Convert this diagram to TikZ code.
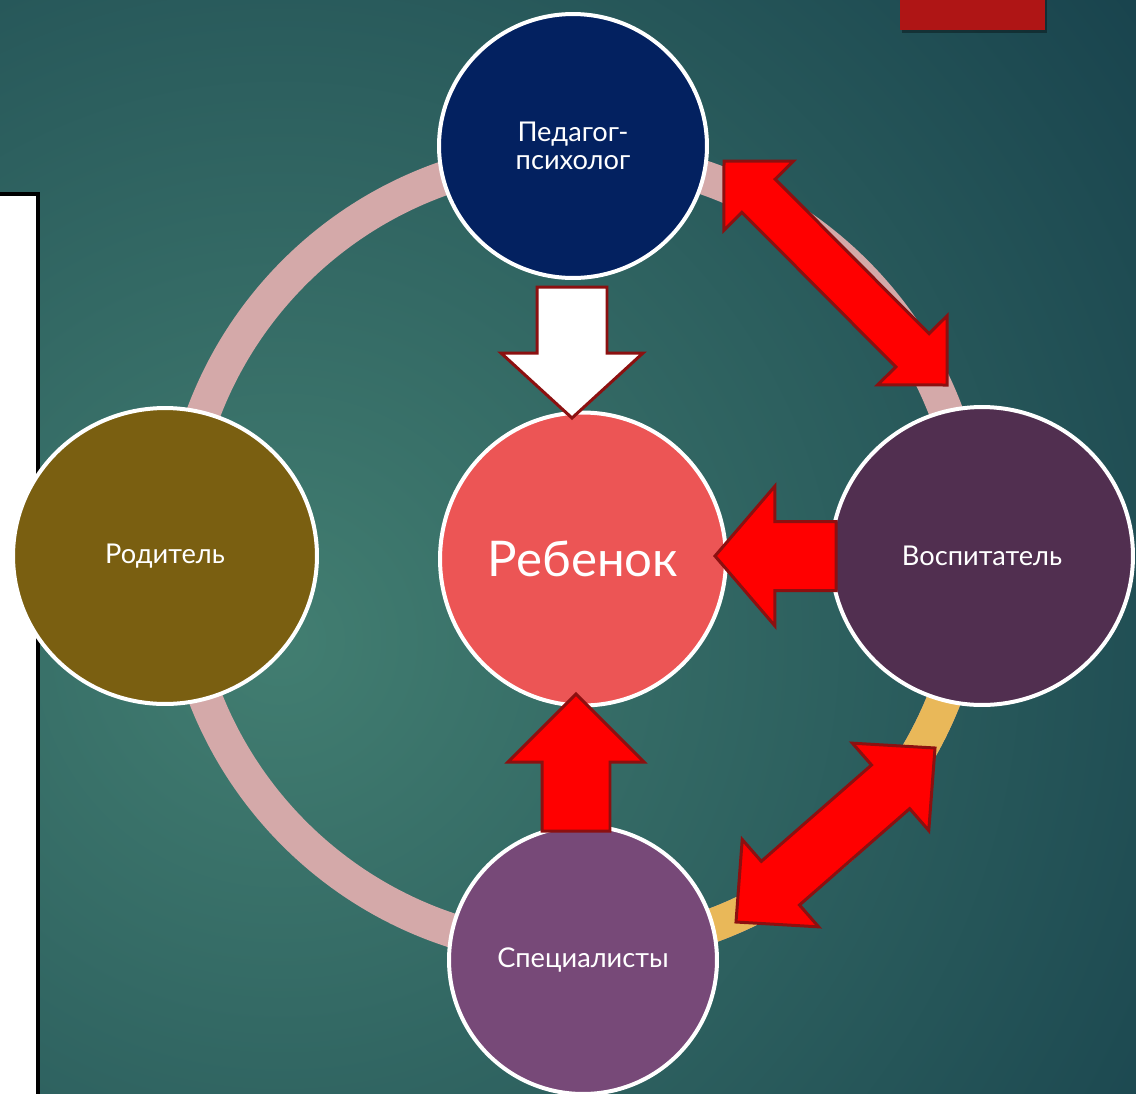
\documentclass[tikz,border=0pt]{standalone}
\usepackage{fontspec}
\setmainfont{Lato}
\usetikzlibrary{calc,shapes.geometric}

\definecolor{bgin}{RGB}{66,126,113}
\definecolor{bgout}{RGB}{16,55,70}
\definecolor{ringpink}{RGB}{212,169,169}
\definecolor{ringgold}{RGB}{233,184,89}
\definecolor{pedblue}{RGB}{3,33,96}
\definecolor{rodolive}{RGB}{122,95,17}
\definecolor{vosplum}{RGB}{81,47,80}
\definecolor{specviolet}{RGB}{119,73,120}
\definecolor{childred}{RGB}{236,85,85}
\definecolor{arrline}{RGB}{140,16,16}
\definecolor{tabred}{RGB}{175,21,21}

% block arrow: style, tail, tip, shaft half width, head half width, head length
\newcommand{\singlearr}[6]{%
  \coordinate (hb) at ($(#3)!#6!(#2)$);
  \draw[#1] ($(#2)!#4!90:(#3)$) -- ($(hb)!#4!-90:(#2)$) -- ($(hb)!#5!-90:(#2)$)
    -- (#3) -- ($(hb)!#5!90:(#2)$) -- ($(hb)!#4!90:(#2)$) -- ($(#2)!#4!-90:(#3)$) -- cycle;}
% double block arrow: style, tip a, tip b, shaft half width, head half width, head length
\newcommand{\doublearr}[6]{%
  \coordinate (ba) at ($(#2)!#6!(#3)$);
  \coordinate (bb) at ($(#3)!#6!(#2)$);
  \draw[#1] (#2) -- ($(ba)!#5!90:(#3)$) -- ($(ba)!#4!90:(#3)$) -- ($(bb)!#4!-90:(#2)$)
    -- ($(bb)!#5!-90:(#2)$) -- (#3) -- ($(bb)!#5!90:(#2)$) -- ($(bb)!#4!90:(#2)$)
    -- ($(ba)!#4!-90:(#3)$) -- ($(ba)!#5!-90:(#3)$) -- cycle;}

\begin{document}
\begin{tikzpicture}[x=0.02cm,y=-0.02cm,
    role/.style={ellipse, draw=white, line width=0.08cm, text=white, align=center,
      inner sep=0pt, font=\fontsize{15.5}{16}\selectfont},
    redarr/.style={fill=red, draw=arrline, line width=0.06cm, line join=miter},
    whitearr/.style={fill=white, draw=arrline, line width=0.06cm, line join=miter}]
    \useasboundingbox (0,0) rectangle (1136,1093);
    \begin{scope}
        \clip (0,0) rectangle (1136,1093);
        \fill[bgout] (0,0) rectangle (1136,1093);
        \shade[inner color=bgin, outer color=bgout] (280,640) circle[radius=26cm];
        \draw[fill=white, draw=black, line width=0.07cm] (-10,194) rectangle (38,1110);
        \fill[black, opacity=0.35] (902,-5) rectangle (1047,33);
        \fill[tabred] (900,-5) rectangle (1045,30);
    \end{scope}

    % ring
    \coordinate (ringc) at (575,553);
    \draw[ringpink, line width=0.68cm] (ringc) circle[radius=7.94cm];
    \draw[ringgold, line width=0.68cm] ($(ringc)+(7.94cm,0)$) arc[start angle=0, end angle=-90, radius=7.94cm];

    % roles
    \node[role, fill=pedblue, minimum width=5.36cm, minimum height=5.28cm] (ped) at (573,146) {Педагог-\\психолог};
    \node[role, fill=rodolive, minimum width=6.08cm, minimum height=5.92cm] (rod) at (165,556) {Родитель};
    \node[role, fill=vosplum, minimum width=6.04cm, minimum height=5.96cm] (vos) at (982,556) {Воспитатель};
    \node[role, fill=specviolet, minimum width=5.36cm, minimum height=5.36cm] (spec) at (583,960) {Специалисты};
    \node[role, fill=childred, minimum width=5.72cm, minimum height=5.86cm,
      font=\fontsize{28}{30}\selectfont] (child) at (583,559) {Ребенок};

    % arrows
    \coordinate (wtail) at (572,287);
    \coordinate (wtip) at (572,418);
    \coordinate (ltail) at (836,556);
    \coordinate (ltip) at (715,556);
    \coordinate (utail) at (576,831);
    \coordinate (utip) at (576,694);
    \coordinate (pv1) at (724,161);
    \coordinate (pv2) at (947,385);
    \coordinate (vs1) at (935,748);
    \coordinate (vs2) at (736,922);
    \singlearr{whitearr}{wtail}{wtip}{0.70cm}{1.42cm}{1.3cm}
    \singlearr{redarr}{ltail}{ltip}{0.69cm}{1.4cm}{1.2cm}
    \singlearr{redarr}{utail}{utip}{0.68cm}{1.36cm}{1.36cm}
    \doublearr{redarr}{pv1}{pv2}{0.47cm}{0.98cm}{0.98cm}
    \doublearr{redarr}{vs1}{vs2}{0.58cm}{1.16cm}{1.18cm}
\end{tikzpicture}
\end{document}
